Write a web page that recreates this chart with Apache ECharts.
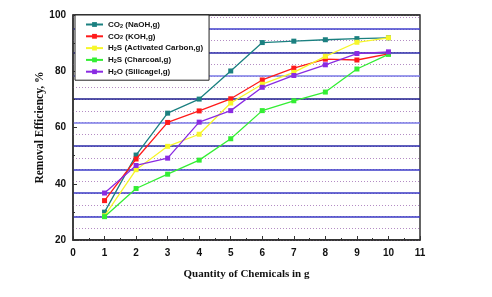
<!DOCTYPE html>
<html><head><meta charset="utf-8">
<script src="https://cdn.jsdelivr.net/npm/echarts@6/dist/echarts.min.js"></script>
<style>html,body{margin:0;padding:0;background:#fff}#c{width:492px;height:297px}</style>
</head><body><div id="c"></div>
<script>
var quantities = [1, 2, 3, 4, 5, 6, 7, 8, 9, 10];
var seriesNames = ['CO2 (NaOH,g)', 'CO2 (KOH,g)', 'H2S (Activated Carbon,g)', 'H2S (Charcoal,g)', 'H2O (Silicagel,g)'];
var co2NaOH = [29.9, 50.2, 65.1, 70.1, 80.1, 90.2, 90.7, 91.2, 91.6, 91.9];
var co2KOH = [34.0, 48.8, 61.8, 65.9, 70.2, 76.9, 81.1, 84.3, 84.0, 86.2];
var h2sAC = [28.6, 45.0, 53.3, 57.6, 68.7, 75.4, 79.6, 85.3, 90.3, 91.9];
var h2sCharcoal = [28.3, 38.3, 43.4, 48.4, 56.0, 66.0, 69.5, 72.6, 80.8, 86.0];
var h2oSilica = [36.7, 46.5, 49.1, 61.9, 66.0, 74.3, 78.5, 82.3, 86.3, 86.9];
var xTicks = ['0','1','2','3','4','5','6','7','8','9','10','11'];
var yTicks = ['20','40','60','80','100'];

var allValues = [co2NaOH, co2KOH, h2sAC, h2sCharcoal, h2oSilica];
var colors = ['#1b8080', '#ff1a1a', '#f6f62a', '#33ee33', '#8a2be2'];

function pairs(v) { return quantities.map(function (q, i) { return [q, v[i]]; }); }

var series = seriesNames.map(function (n, k) {
  return {
    name: n, type: 'line', data: pairs(allValues[k]),
    symbol: 'rect', symbolSize: 5, showSymbol: true,
    lineStyle: { width: 1.3, color: colors[k] },
    itemStyle: { color: colors[k] },
    xAxisIndex: 0, yAxisIndex: 0, z: 5 + k
  };
});

var chart = echarts.init(document.getElementById('c'), null, { renderer: 'canvas' });
chart.setOption({
  animation: false,
  backgroundColor: '#fff',
  grid: { left: 73, right: 72, top: 15, bottom: 57, show: true, borderColor: '#333', borderWidth: 1.5, backgroundColor: '#fff', containLabel: false },
  legend: {
    orient: 'vertical', left: 75, top: 15,
    backgroundColor: '#fff', borderColor: '#222', borderWidth: 1, borderRadius: 0,
    padding: [5, 6, 4, 10], itemGap: 2.8, itemWidth: 17, itemHeight: 6,
    data: seriesNames,
    formatter: function (n) { return n.replace(/^(CO|H)2/, '$1{s|2}'); },
    textStyle: {
      fontFamily: 'Liberation Sans, Arial, sans-serif', fontWeight: 'bold', fontSize: 8, color: '#111', lineHeight: 9,
      rich: { s: { fontSize: 5.5, fontWeight: 'bold', fontFamily: 'Liberation Sans, Arial, sans-serif', verticalAlign: 'bottom', lineHeight: 7, padding: [2, 0, 0, 0], color: '#111' } }
    },
    z: 20
  },
  xAxis: {
    type: 'value', min: 0, max: 11, interval: 1,
    name: 'Quantity of Chemicals in g', nameLocation: 'middle', nameGap: 29, nameMoveOverlap: false,
    nameTextStyle: { fontFamily: 'Liberation Serif, Times New Roman, serif', fontWeight: 'bold', fontSize: 11, color: '#111' },
    axisLine: { show: true, lineStyle: { color: '#333', width: 1.5 } },
    axisTick: { show: true, inside: true, length: 4, lineStyle: { color: '#333' } },
    minorTick: { show: true, splitNumber: 2, length: 2, lineStyle: { color: '#333' } },
    axisLabel: { margin: 8, fontFamily: 'Liberation Sans, Arial, sans-serif', fontWeight: 'bold', fontSize: 10, color: '#111',
      formatter: function (v) { return xTicks[Math.round(v)]; } },
    splitLine: { show: false }
  },
  yAxis: [{
    type: 'value', min: 20, max: 100, interval: 20,
    name: 'Removal Efficiency, %', nameLocation: 'middle', nameGap: 27, nameMoveOverlap: false,
    nameTextStyle: { fontFamily: 'Liberation Serif, Times New Roman, serif', fontWeight: 'bold', fontSize: 11.5, color: '#111' },
    axisLine: { show: true, lineStyle: { color: '#333', width: 1.5 } },
    axisTick: { show: true, inside: true, length: 4, lineStyle: { color: '#333' } },
    minorTick: { show: true, splitNumber: 2, length: 2, lineStyle: { color: '#333' } },
    axisLabel: { margin: 7, fontFamily: 'Liberation Sans, Arial, sans-serif', fontWeight: 'bold', fontSize: 10, color: '#111',
      formatter: function (v) { return yTicks[Math.round((v - 20) / 20)]; } },
    splitLine: { show: false }, z: 10
  }, {
    type: 'value', min: 0, max: 9.59, interval: 0.5, position: 'right',
    axisLine: { show: false }, axisTick: { show: false }, axisLabel: { show: false },
    splitLine: { show: true, lineStyle: { color: '#b48cc4', width: 1, type: [1, 2] } }, z: 1
  }, {
    type: 'value', min: 0, max: 9.59, interval: 1, position: 'right',
    axisLine: { show: false }, axisTick: { show: false }, axisLabel: { show: false },
    splitLine: { show: true, lineStyle: { width: 1.6, color: ['#333', '#3a3ac4', '#3a3ac4', '#3c3cc8', '#2a2aa8', '#7a7ae6', '#1c1c8c', '#7a7ae6', '#2a2aa8', '#4040cc', '#333'] } }, z: 2
  }],
  series: series
});
</script></body></html>
